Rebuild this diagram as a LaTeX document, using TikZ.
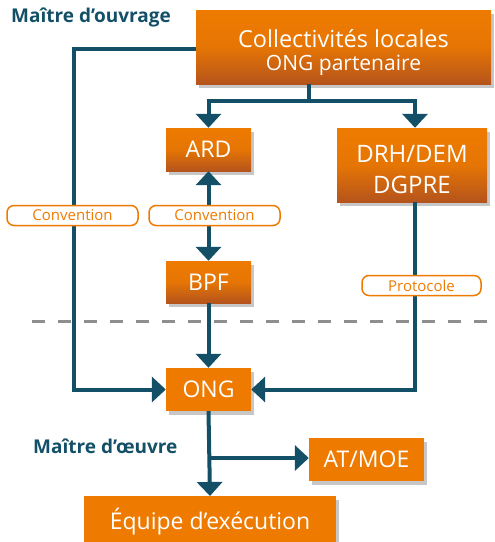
\documentclass[tikz,border=0pt]{standalone}
\usepackage{fontspec}
\setmainfont{Open Sans}
\usetikzlibrary{arrows.meta,shadows,calc}
\definecolor{lineblue}{HTML}{134F66}
\definecolor{orA}{HTML}{EE7B00}
\definecolor{orB}{HTML}{B5541C}
\definecolor{dashgray}{HTML}{8E8E8E}
\tikzset{
  x=1pt, y=-1pt,
  shad/.style={drop shadow={shadow xshift=3pt, shadow yshift=-4pt, opacity=0.22, fill=black}},
  flatbox/.style={shad, fill=orA, text=white, inner sep=0pt, align=center, font=\fontsize{23}{26}\selectfont},
  gradbox/.style={flatbox, top color=orA, bottom color=orB, middle color=orA!85!orB},
  conn/.style={draw=lineblue, line width=4pt},
  arr/.style={conn, -{Triangle[width=25pt,length=14pt]}},
  arrb/.style={conn, {Triangle[width=25pt,length=14pt]}-{Triangle[width=25pt,length=14pt]}},
  tag/.style={draw=orA, line width=1.5pt, fill=white, rounded corners=7pt, text=orA, inner sep=0pt, minimum height=20pt, font=\fontsize{15}{16}\selectfont},
  ttl/.style={text=lineblue, font=\bfseries\fontsize{19}{21}\selectfont, inner sep=0pt}
}
\begin{document}
\begin{tikzpicture}
\useasboundingbox (0,0) rectangle (495,542);
% dashed separator
\draw[dashgray, line width=3pt, dash pattern=on 13pt off 13pt] (32,321) -- (495,321);

% nodes
\node[gradbox, minimum width=295pt, minimum height=74pt, font=\fontsize{23.5}{26}\selectfont] (top) at (343.5,47) {\rule{0pt}{29pt}Collectivités locales\\[-3pt]{\fontsize{21}{23}\selectfont ONG partenaire}};
\node[gradbox, minimum width=85pt, minimum height=43pt] (ARD) at (208.5,149.5) {ARD};
\node[gradbox, minimum width=150pt, minimum height=74pt, font=\fontsize{24}{31}\selectfont] (DRH) at (412,165) {\rule{0pt}{27pt}DRH/DEM\\DGPRE};
\node[gradbox, minimum width=85pt, minimum height=42pt] (BPF) at (208.5,282) {BPF};
\node[flatbox, minimum width=85pt, minimum height=43pt] (ONG) at (208.5,389.5) {ONG};
\node[flatbox, minimum width=115pt, minimum height=43pt] (AT) at (366.5,459.5) {AT/MOE};
\node[flatbox, minimum width=252pt, minimum height=50pt, anchor=north] (EQ) at (210,496) {\raisebox{2pt}{Équipe d’exécution}};

\node[ttl, anchor=west] (mo) at (11,17) {Maître d’ouvrage};
\node[ttl, anchor=west] (me) at (33,446) {Maître d’œuvre};

% helper coordinates
\coordinate (tl) at (74,49);
\coordinate (cl) at (74,389.5);
\coordinate (ts) at (309,84);
\coordinate (sp) at (309,101);
\coordinate (dr) at (415,101);
\coordinate (ds) at (415,202);
\coordinate (dc) at (415,389.5);
\coordinate (br) at (208.5,458);

% connectors
\draw[arr] (top.west |- tl) -- (tl) -- (cl) -- (ONG.west);
\draw[conn] (ts) -- (sp);
\draw[arr] (sp) -| (ARD.north);
\draw[arr] (sp) -| (dr) -- (dr |- DRH.north);
\draw[arrb] (ARD.south) -- (BPF.north);
\draw[arr] (BPF.south) -- (ONG.north);
\draw[arr] (ds) -- (dc) -- (ONG.east);
\draw[arr] (ONG.south) -- (EQ.north);
\draw[arr] (br) -- (AT.west |- br);

% labels
\node[tag, minimum width=131pt] (c1) at (72.5,215.5) {Convention};
\node[tag, minimum width=131pt] (c2) at (214.5,215.5) {Convention};
\node[tag, minimum width=119pt] (pr) at (421.5,285.5) {Protocole};
\end{tikzpicture}
\end{document}
